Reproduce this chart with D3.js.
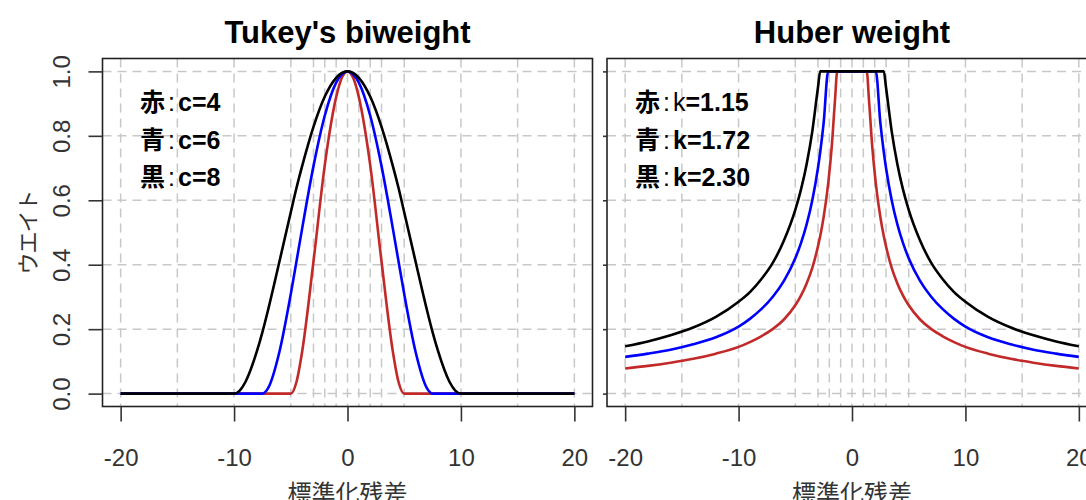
<!DOCTYPE html>
<html>
<head>
<meta charset="utf-8">
<script src="https://cdn.jsdelivr.net/npm/d3@7"></script>
<style>
body { margin: 0; background: #fff; }
text { font-family: "Liberation Sans", Arial, sans-serif; }
.cjk { font-family: "Noto Sans CJK JP", "Liberation Sans", sans-serif; }
</style>
</head>
<body>
<svg id="chart" width="1086" height="500"></svg>
<script>

// Tukey's biweight (x = standardized residual)
var tukeyX = [-20,-15,-10,-9.5,-9,-8,-7.5,-7,-6,-5,-4.5,-4,-3,-2,-1,-0.5,0,0.5,1,2,3,4,4.5,5,6,7,7.5,8,9,9.5,10,15,20];
var tukeyRed = [0,0,0,0,0,0,0,0,0,0,0.036,0.13,0.41,0.71,0.92,0.98,1,0.98,0.92,0.71,0.41,0.13,0.036,0,0,0,0,0,0,0,0,0,0];
var tukeyBlue = [0,0,0,0,0,0,0,0.017,0.13,0.309,0.41,0.512,0.706,0.863,0.965,0.991,1,0.991,0.965,0.863,0.706,0.512,0.41,0.309,0.13,0.017,0,0,0,0,0,0,0];
var tukeyBlack = [0,0,0,0.0095,0.036,0.13,0.191,0.26,0.41,0.563,0.638,0.706,0.828,0.922,0.98,0.995,1,0.995,0.98,0.922,0.828,0.706,0.638,0.563,0.41,0.26,0.191,0.13,0.036,0.0095,0,0,0];

// Huber weight
var huberX = [-20,-18,-16,-14,-12,-10,-9,-8,-7,-6,-5,-4.5,-4,-3.5,-3,-2.8,-2.5,-2.1,-1.8,-1.5,-1.3,-1,0,1,1.3,1.5,1.8,2.1,2.5,2.8,3,3.5,4,4.5,5,6,7,8,9,10,12,14,16,18,20];
var huberRed = [0.078,0.086,0.096,0.108,0.124,0.145,0.16,0.178,0.2,0.23,0.274,0.304,0.342,0.39,0.457,0.489,0.548,0.652,0.76,0.91,1,1,1,1,1,0.91,0.76,0.652,0.548,0.489,0.457,0.39,0.342,0.304,0.274,0.23,0.2,0.178,0.16,0.145,0.124,0.108,0.096,0.086,0.078];
var huberBlue = [0.114,0.124,0.136,0.153,0.175,0.208,0.232,0.262,0.30,0.35,0.42,0.467,0.525,0.60,0.70,0.75,0.84,1,1,1,1,1,1,1,1,1,1,1,0.84,0.75,0.70,0.60,0.525,0.467,0.42,0.35,0.30,0.262,0.232,0.208,0.175,0.153,0.136,0.124,0.114];
var huberBlack = [0.147,0.162,0.181,0.205,0.238,0.285,0.315,0.355,0.405,0.475,0.57,0.633,0.712,0.814,0.95,1,1,1,1,1,1,1,1,1,1,1,1,1,1,1,0.95,0.814,0.712,0.633,0.57,0.475,0.405,0.355,0.315,0.285,0.238,0.205,0.181,0.162,0.147];

var gridX = [-20,-15,-10,-5,-3,-2,-1,0,1,2,3,5,10,15,20];
var gridY = [0,0.2,0.4,0.6,0.8,1];
var xTicks = [-20,-10,0,10,20];
var yTicks = [0,0.2,0.4,0.6,0.8,1];
var colors = ["#c22a2a","#0000ff","#000000"];

var tukeyLegend = [["赤","c=4",true],["青","c=6",true],["黒","c=8",true]];
var huberLegend = [["赤","k=1.15",false],["青","k=1.72",true],["黒","k=2.30",true]];

var svg = d3.select("#chart");
svg.append("rect").attr("width",1086).attr("height",500).attr("fill","#fff");

var plotTop = 58.5, plotBottom = 406.5, panelW = 490;

var y = d3.scaleLinear().domain([-0.04,1.04]).range([plotBottom, plotTop]);

function drawPanel(left, title, xs, series, legend, legendX, yLabels){
	var x = d3.scaleLinear().domain([-21.6,21.6]).range([left, left+panelW]);
	var g = svg.append("g");

	// dashed grid
	g.append("g").selectAll("line")
	.data(gridX)
	.enter().append("line")
	.attr("x1", function(d){ return x(d); })
	.attr("x2", function(d){ return x(d); })
	.attr("y1", plotTop).attr("y2", plotBottom)
	.attr("stroke","#c8c8c8").attr("stroke-width",1.5)
	.attr("stroke-dasharray","9,6");

	g.append("g").selectAll("line")
	.data(gridY)
	.enter().append("line")
	.attr("y1", function(d){ return y(d); })
	.attr("y2", function(d){ return y(d); })
	.attr("x1", left).attr("x2", left+panelW)
	.attr("stroke","#c8c8c8").attr("stroke-width",1.5)
	.attr("stroke-dasharray","9,6");

	// curves
	var line = d3.line()
	.x(function(d){ return x(d[0]); })
	.y(function(d){ return y(d[1]); })
	.curve(d3.curveMonotoneX);

	series.forEach(function(s, i){
		g.append("path")
		.datum(xs.map(function(v, j){ return [v, s[j]]; }))
		.attr("d", line)
		.attr("fill","none")
		.attr("stroke", colors[i])
		.attr("stroke-width",2.6)
		.attr("stroke-linejoin","round");
	});

	// box
	g.append("rect")
	.attr("x", left).attr("y", plotTop)
	.attr("width", panelW).attr("height", plotBottom-plotTop)
	.attr("fill","none").attr("stroke","#222").attr("stroke-width",1.6);

	// x axis (plain hyphen minus like the original)
	var xaxis = d3.axisBottom(x).tickValues(xTicks).tickSize(15).tickPadding(27).tickSizeOuter(0)
	.tickFormat(function(d){ return String(d); });
	var ax = g.append("g").attr("transform","translate(0,"+plotBottom+")").call(xaxis);
	ax.select(".domain").remove();
	ax.selectAll("line").attr("stroke","#333").attr("stroke-width",1.6);
	ax.selectAll("text").attr("fill","#333").style("font-size","24px").style("font-family","Liberation Sans, Arial, sans-serif");

	// y axis
	var yaxis = d3.axisLeft(y).tickValues(yTicks).tickSizeOuter(0);
	if(yLabels){
		yaxis.tickSize(14).tickFormat(function(d){ return d.toFixed(1); });
	} else {
		yaxis.tickSize(4).tickFormat("");
	}
	var ay = g.append("g").attr("transform","translate("+left+",0)").call(yaxis);
	ay.select(".domain").remove();
	ay.selectAll("line").attr("stroke","#333").attr("stroke-width",1.6);
	ay.selectAll("text")
	.attr("x", null).attr("dy", null)
	.attr("text-anchor","middle")
	.attr("transform","translate(-33,0)rotate(-90)")
	.attr("fill","#333").style("font-size","24px").style("font-family","Liberation Sans, Arial, sans-serif");

	// title
	g.append("text")
	.attr("x", x(0)).attr("y", 43)
	.attr("text-anchor","middle")
	.style("font-size","31px").style("font-weight","bold")
	.text(title);

	// x label
	g.append("text").attr("class","cjk")
	.attr("x", x(0)).attr("y", 502)
	.attr("text-anchor","middle")
	.attr("fill","#333")
	.style("font-size","24px")
	.text("標準化残差");

	// legend
	legend.forEach(function(d, i){
		var t = g.append("text")
		.attr("x", legendX).attr("y", 111 + i*37.5)
		.style("font-size","25px");
		t.append("tspan").attr("class","cjk").style("font-weight","bold").text(d[0]);
		t.append("tspan").attr("dx",3).text(":");
		t.append("tspan").attr("dx",3).style("font-weight", d[2] ? "bold" : "normal").text(d[1].charAt(0));
		t.append("tspan").style("font-weight","bold").text(d[1].slice(1));
	});
}

drawPanel(102.5, "Tukey's biweight", tukeyX, [tukeyRed, tukeyBlue, tukeyBlack], tukeyLegend, 140, true);
drawPanel(607, "Huber weight", huberX, [huberRed, huberBlue, huberBlack], huberLegend, 635, false);

// y label
svg.append("text").attr("class","cjk")
.attr("transform","translate(36,"+y(0.5)+")rotate(-90)")
.attr("text-anchor","middle")
.attr("fill","#333")
.style("font-size","22px")
.style("letter-spacing","-1px")
.text("ウエイト");

</script>
</body>
</html>
